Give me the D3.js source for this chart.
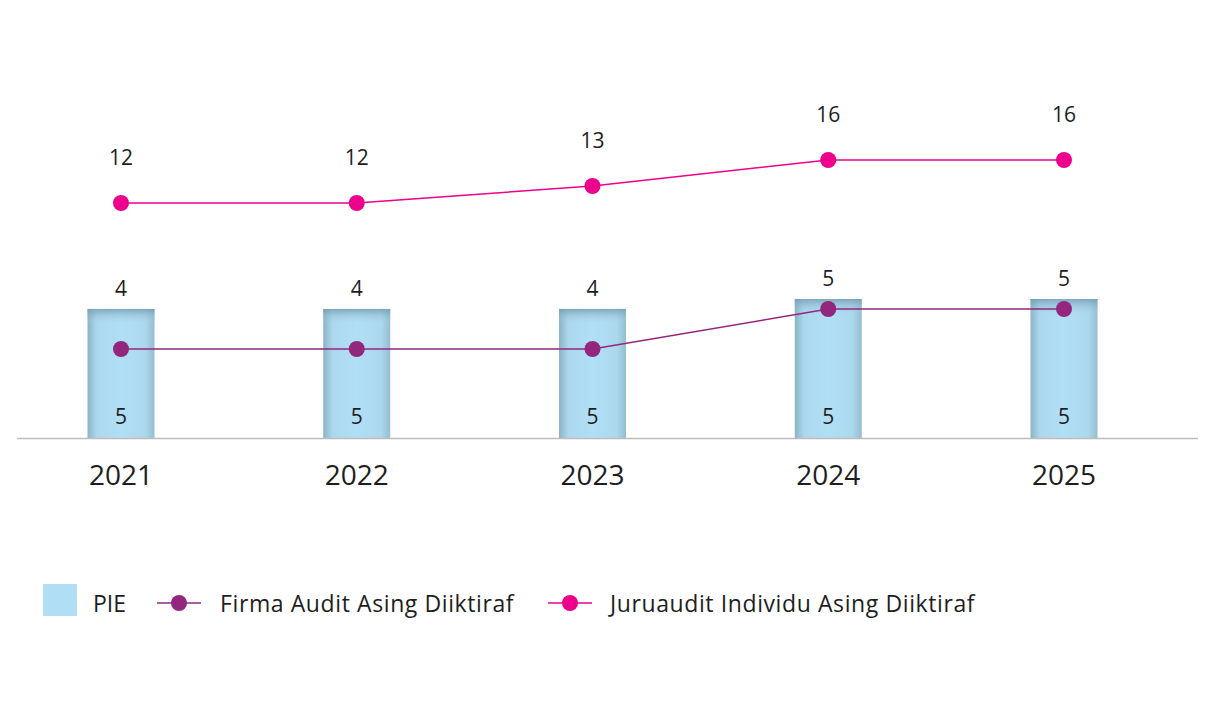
<!DOCTYPE html>
<html>
<head>
<meta charset="utf-8">
<script src="https://cdn.jsdelivr.net/npm/d3@7/dist/d3.min.js"></script>
<style>
  html, body { margin: 0; padding: 0; background: #fff; }
  svg { display: block; font-family: "Open Sans", "Noto Sans", sans-serif; }
</style>
</head>
<body>
<svg id="chart" width="1219" height="718"></svg>
<script>
// ---- data ----
const years = ["2021", "2022", "2023", "2024", "2025"];
const pieValues = [5, 5, 5, 5, 5];
const firmaValues = [4, 4, 4, 5, 5];
const juruauditValues = [12, 12, 13, 16, 16];
const seriesNames = ["PIE", "Firma Audit Asing Diiktiraf", "Juruaudit Individu Asing Diiktiraf"];

const colors = { pie: "#b0def5", firma: "#93277e", jur: "#ec008c", text: "#1e1e1e", axis: "#bdbdbd" };

const svg = d3.select("#chart");
const baseline = 438;

const x = d3.scalePoint().domain(years).range([121, 1064]);
const yJur = d3.scaleLinear().domain([12, 13, 16]).range([203, 186, 160]);
const yFirma = d3.scaleLinear().domain([4, 5]).range([349, 309]);
// bar height scale (bars grow with the Firma count shown above them)
const yBar = d3.scaleLinear().domain([-9, 5]).range([baseline, 299]);
const barW = 67;

// gradients
const defs = svg.append("defs");
const gH = defs.append("linearGradient").attr("id", "barH").attr("x1", 0).attr("x2", 1).attr("y1", 0).attr("y2", 0);
[["0%", "#8cb3c6"], ["14%", "#acd8ee"], ["50%", "#b1dff5"], ["86%", "#acd8ee"], ["100%", "#94bed1"]]
  .forEach(([o, c]) => gH.append("stop").attr("offset", o).attr("stop-color", c));
const gV = defs.append("linearGradient").attr("id", "barV").attr("x1", 0).attr("x2", 0).attr("y1", 0).attr("y2", 1);
[["0%", "#6f97ab", 0.75], ["7%", "#8fb8cc", 0.25], ["12%", "#b1dff5", 0], ["100%", "#b1dff5", 0]]
  .forEach(([o, c, a]) => gV.append("stop").attr("offset", o).attr("stop-color", c).attr("stop-opacity", a));

// bars
const bars = svg.append("g");
years.forEach((yr, i) => {
  const top = yBar(firmaValues[i]);
  bars.append("rect").attr("x", x(yr) - barW / 2).attr("y", top).attr("width", barW)
    .attr("height", baseline - top).attr("fill", "url(#barH)");
  bars.append("rect").attr("x", x(yr) - barW / 2).attr("y", top).attr("width", barW)
    .attr("height", baseline - top).attr("fill", "url(#barV)");
});

// baseline axis
svg.append("line").attr("x1", 17).attr("x2", 1198).attr("y1", baseline + 0.5).attr("y2", baseline + 0.5)
  .attr("stroke", colors.axis).attr("stroke-width", 1.5);

// year labels
svg.append("g").selectAll("text").data(years).join("text")
  .attr("x", d => x(d)).attr("y", 485).attr("text-anchor", "middle")
  .attr("font-size", 28).attr("fill", colors.text).text(d => d);

// PIE labels inside bars
svg.append("g").selectAll("text").data(pieValues).join("text")
  .attr("x", (d, i) => x(years[i])).attr("y", 424).attr("text-anchor", "middle")
  .attr("font-size", 21).attr("fill", colors.text).text(d => d);

// Firma line
const lineF = d3.line().x((d, i) => x(years[i])).y(d => yFirma(d));
svg.append("path").datum(firmaValues).attr("d", lineF).attr("fill", "none")
  .attr("stroke", colors.firma).attr("stroke-width", 1.5);
svg.append("g").selectAll("circle").data(firmaValues).join("circle")
  .attr("cx", (d, i) => x(years[i])).attr("cy", d => yFirma(d)).attr("r", 8).attr("fill", colors.firma);
svg.append("g").selectAll("text").data(firmaValues).join("text")
  .attr("x", (d, i) => x(years[i])).attr("y", d => yBar(d) - 13).attr("text-anchor", "middle")
  .attr("font-size", 21).attr("fill", colors.text).text(d => d);

// Juruaudit line
const lineJ = d3.line().x((d, i) => x(years[i])).y(d => yJur(d));
svg.append("path").datum(juruauditValues).attr("d", lineJ).attr("fill", "none")
  .attr("stroke", colors.jur).attr("stroke-width", 1.5);
svg.append("g").selectAll("circle").data(juruauditValues).join("circle")
  .attr("cx", (d, i) => x(years[i])).attr("cy", d => yJur(d)).attr("r", 8).attr("fill", colors.jur);
svg.append("g").selectAll("text").data(juruauditValues).join("text")
  .attr("x", (d, i) => x(years[i])).attr("y", d => yJur(d) - 38).attr("text-anchor", "middle")
  .attr("font-size", 21).attr("fill", colors.text).text(d => d);

// legend
const lg = svg.append("g").attr("font-size", 23).attr("letter-spacing", 0.6).attr("fill", colors.text);
lg.append("rect").attr("x", 43).attr("y", 584).attr("width", 34).attr("height", 32).attr("fill", colors.pie);
lg.append("text").attr("x", 93).attr("y", 612).attr("letter-spacing", 0).text(seriesNames[0]);

lg.append("line").attr("x1", 157).attr("x2", 201).attr("y1", 603).attr("y2", 603).attr("stroke", colors.firma).attr("stroke-width", 1.5);
lg.append("circle").attr("cx", 179).attr("cy", 603).attr("r", 8).attr("fill", colors.firma);
lg.append("text").attr("x", 220).attr("y", 612).text(seriesNames[1]);

lg.append("line").attr("x1", 548).attr("x2", 592).attr("y1", 603).attr("y2", 603).attr("stroke", colors.jur).attr("stroke-width", 1.5);
lg.append("circle").attr("cx", 570).attr("cy", 603).attr("r", 8).attr("fill", colors.jur);
lg.append("text").attr("x", 610).attr("y", 612).text(seriesNames[2]);
</script>
</body>
</html>
